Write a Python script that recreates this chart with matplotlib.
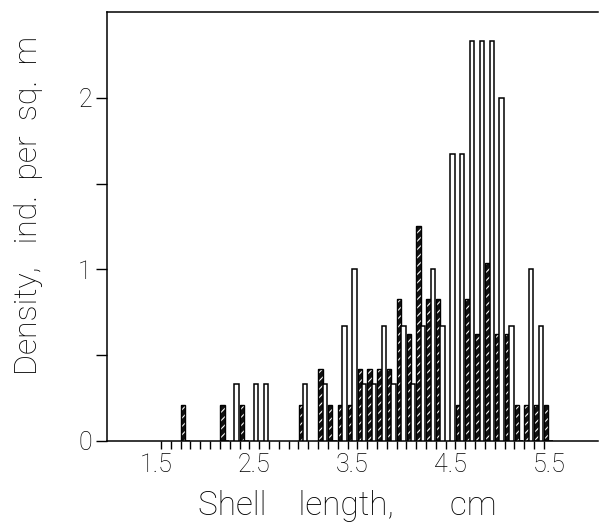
import numpy as np
import matplotlib.pyplot as plt

plt.rcParams['font.family'] = ['Roboto', 'DejaVu Sans']
plt.rcParams['font.weight'] = 'light'
plt.rcParams['axes.labelweight'] = 'light'
plt.rcParams['hatch.linewidth'] = 0.8

# shell length classes, cm
lengths = [1.8, 2.2, 2.3, 2.4, 2.5, 2.6, 3.0, 3.2, 3.3, 3.4, 3.5, 3.6, 3.7, 3.8, 3.9,
           4.0, 4.1, 4.2, 4.3, 4.4, 4.5, 4.6, 4.7, 4.8, 4.9, 5.0, 5.1, 5.2, 5.3, 5.4, 5.5]
# density, ind. per sq. m
dens_hatched = [0.21, 0.21, 0.0, 0.21, 0.0, 0.0, 0.21, 0.42, 0.21, 0.21, 0.21, 0.42, 0.42, 0.42, 0.42,
                0.83, 0.625, 1.25, 0.83, 0.83, 0.0, 0.21, 0.83, 0.625, 1.04, 0.625, 0.625, 0.21, 0.21, 0.21, 0.21]
dens_open = [0.0, 0.0, 0.33, 0.0, 0.33, 0.33, 0.33, 0.33, 0.0, 0.67, 1.0, 0.33, 0.33, 0.67, 0.33,
             0.67, 0.33, 0.67, 1.0, 0.67, 1.67, 1.67, 2.33, 2.33, 2.33, 2.0, 0.67, 0.0, 1.0, 0.67, 0.0]
xtick_labels = ["1.5", "2.5", "3.5", "4.5", "5.5"]

x = np.array(lengths)
w = 0.045

fig = plt.figure(figsize=(6.05, 5.29), dpi=100)
ax = fig.add_axes([0.177, 0.1664, 0.811, 0.811])

# hatched series: dark fill with light streaks, then a black outline
ax.bar(x - w - 0.003, dens_hatched, width=w, align="edge", color="#111111",
       edgecolor="white", hatch="////", linewidth=0, zorder=2)
ax.bar(x - w - 0.003, dens_hatched, width=w, align="edge", fill=False,
       edgecolor="black", linewidth=1.0, zorder=3)
# open series
ax.bar(x - 0.003, dens_open, width=w, align="edge", color="white",
       edgecolor="black", linewidth=1.1, zorder=4)

ax.set_xlim(1.0, 6.0)
ax.set_ylim(0, 2.5)

ax.spines["right"].set_visible(False)
for s in ["left", "bottom", "top"]:
    ax.spines[s].set_linewidth(1.1)

ax.set_xticks([1.5, 2.5, 3.5, 4.5, 5.5])
ax.set_xticklabels(xtick_labels)
ax.set_xticks(np.arange(1.55, 5.46, 0.1), minor=True)
ax.tick_params(axis="x", which="major", length=0, pad=9, labelsize=18)
ax.tick_params(axis="x", which="minor", length=6, width=1.0, direction="out")

ax.set_yticks([0, 1, 2])
ax.set_yticks([0.5, 1.5], minor=True)
ax.tick_params(axis="y", which="both", length=8, width=1.0, direction="out", pad=3, labelsize=18)

ax.set_xlabel("Shell    length,       cm", fontsize=24)
ax.set_ylabel("Density,   ind.  per  sq.  m", fontsize=23)
ax.xaxis.set_label_coords(0.49, -0.115)
ax.yaxis.set_label_coords(-0.13, 0.55)

fig.savefig("out.png", dpi=100)
